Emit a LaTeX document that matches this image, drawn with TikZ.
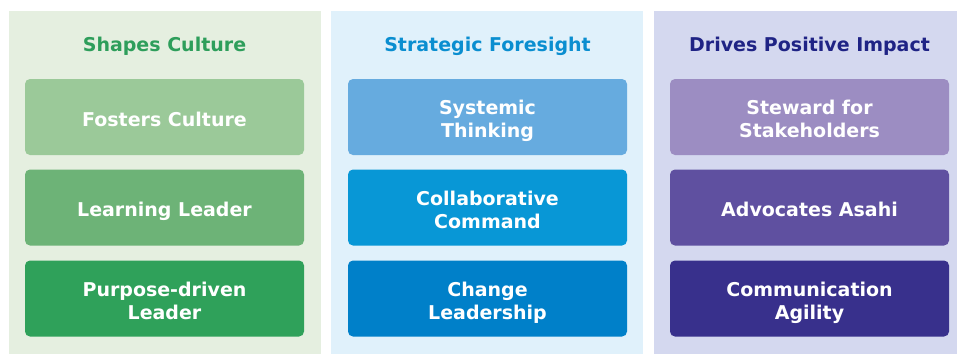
\documentclass[tikz,border=0pt]{standalone}
\usepackage{fontspec}
\setmainfont{DejaVu Sans}
\definecolor{gbg}{HTML}{E5EFE0}
\definecolor{gtitle}{HTML}{2E9E5B}
\definecolor{gA}{HTML}{9BC999}
\definecolor{gB}{HTML}{6DB377}
\definecolor{gC}{HTML}{2FA15A}
\definecolor{bbg}{HTML}{E0F1FB}
\definecolor{btitle}{HTML}{0A8ED0}
\definecolor{bA}{HTML}{66ABDF}
\definecolor{bB}{HTML}{0897D6}
\definecolor{bC}{HTML}{0080C9}
\definecolor{pbg}{HTML}{D4D8EF}
\definecolor{ptitle}{HTML}{1F2385}
\definecolor{pA}{HTML}{9C8DC2}
\definecolor{pB}{HTML}{5F50A0}
\definecolor{pC}{HTML}{38308C}
\tikzset{
  panel/.style={draw=none, inner sep=0pt, anchor=north west},
  title/.style={font=\fontsize{19}{23}\selectfont\bfseries, anchor=base},
  item/.style={rounded corners=5pt, minimum width=279pt, minimum height=76pt, inner sep=0pt,
    text=white, align=center, font=\fontsize{19}{23.3}\selectfont\bfseries},
  oneline/.style={item, text height=18pt, text depth=0pt},
  twoline/.style={item, text height=41.6pt, text depth=0pt}
}
\begin{document}
\begin{tikzpicture}[x=1pt,y=-1pt]
\useasboundingbox (0,0) rectangle (957,354);
\fill[white] (0,0) rectangle (957,354);
% panels
\node[panel, fill=gbg, minimum width=312pt, minimum height=343pt] (p1) at (9,11) {};
\node[panel, fill=bbg, minimum width=312pt, minimum height=343pt] (p2) at (331,11) {};
\node[panel, fill=pbg, minimum width=303pt, minimum height=343pt] (p3) at (654,11) {};
% titles
\node[title, text=gtitle] (t1) at (164.5,51) {Shapes Culture};
\node[title, text=btitle] (t2) at (487.5,51) {Strategic Foresight};
\node[title, text=ptitle] (t3) at (809.5,51) {Drives Positive Impact};
% column 1
\node[oneline, fill=gA] (a1) at (164.5,117) {Fosters Culture};
\node[oneline, fill=gB] (a2) at (164.5,207.5) {Learning Leader};
\node[twoline, fill=gC] (a3) at (164.5,298.5) {Purpose-driven\\Leader};
% column 2
\node[twoline, fill=bA] (b1) at (487.5,117) {Systemic\\Thinking};
\node[twoline, fill=bB] (b2) at (487.5,207.5) {Collaborative\\Command};
\node[twoline, fill=bC] (b3) at (487.5,298.5) {Change\\Leadership};
% column 3
\node[twoline, fill=pA] (c1) at (809.5,117) {Steward for\\Stakeholders};
\node[oneline, fill=pB] (c2) at (809.5,207.5) {Advocates Asahi};
\node[twoline, fill=pC] (c3) at (809.5,298.5) {Communication\\Agility};
\end{tikzpicture}
\end{document}
